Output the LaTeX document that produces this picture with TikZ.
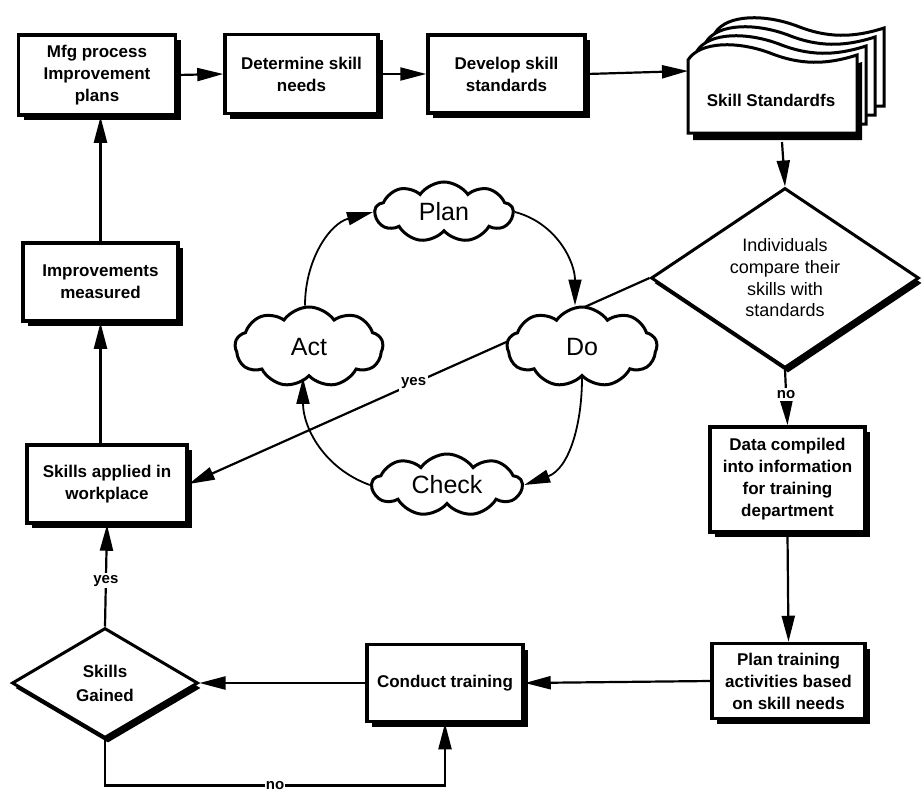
\documentclass[tikz,border=0pt]{standalone}
\usepackage{fontspec}
\setmainfont{Liberation Sans}
\usetikzlibrary{shapes.geometric,shapes.symbols,arrows.meta,shadows}
\tikzset{
  docpage/.pic={\path[pic actions] (0,0) -- (0,-73) .. controls (12,-92) and (50,-92) .. (82,-80) .. controls (112,-68) and (138,-68) .. (169,-78) -- (169,0) -- cycle;}
}
\begin{document}
\begin{tikzpicture}[x=1pt,y=-1pt,
  conn/.style={line width=2.2pt, -{Triangle[length=26pt,width=13pt]}},
  boxtxt/.style={font=\fontsize{17}{22}\selectfont\bfseries},
  lbl/.style={font=\fontsize{15}{18}\selectfont\bfseries, fill=white, inner sep=2pt},
  blackshadow/.style={drop shadow={shadow xshift=5pt, shadow yshift=-5pt, fill=black, opacity=1}},
  procbox/.style={draw, line width=3.5pt, fill=white, align=center, inner sep=0pt, boxtxt, blackshadow},
  decision/.style={diamond, aspect=1.5, draw, line width=3pt, fill=white, align=center, inner sep=0pt,
     drop shadow={shadow xshift=3pt, shadow yshift=-5pt, fill=black, opacity=1}},
  pdca/.style={cloud, cloud puffs=9, cloud puff arc=110, cloud ignores aspect, draw, line width=3pt,
     fill=white, inner sep=0pt, font=\fontsize{25}{30}\selectfont}
]
\useasboundingbox[fill=white] (0,0) rectangle (922,793);

% top row
\node[procbox, minimum width=157pt, minimum height=80pt] (mfg) at (97,75) {Mfg process\\Improvement\\plans};
\node[procbox, minimum width=153pt, minimum height=79pt] (det) at (301.5,74) {Determine skill\\needs};
\node[procbox, minimum width=157pt, minimum height=78pt] (dev) at (506.5,74) {Develop skill\\standards};

% skill standards document (stack of pages)
\pic[draw, line width=3pt, fill=white] at (715,106) {docpage};
\pic[draw, line width=3pt, fill=white] at (706,115) {docpage};
\pic[draw, line width=3pt, fill=white] at (697,124) {docpage};
\pic[fill=black] at (693,140) {docpage};
\pic[draw, line width=3pt, fill=white] at (688,133) {docpage};
\node[boxtxt] (std) at (771,100) {Skill Standardfs};
\coordinate (docL) at (688,71);
\coordinate (docB) at (782,142);

% left column
\node[procbox, minimum width=155pt, minimum height=78pt] (imp) at (100.5,282) {Improvements\\measured};
\node[procbox, minimum width=160pt, minimum height=78pt] (app) at (107,484) {Skills applied in\\workplace};
\node[decision, minimum width=186pt, minimum height=110pt, font=\fontsize{17}{24}\selectfont\bfseries] (gained) at (105,683) {Skills\\Gained};

% right column
\node[decision, minimum width=268pt, minimum height=180pt, font=\fontsize{18}{21.7}\selectfont] (cmp) at (785,278) {Individuals\\compare their\\skills with\\standards};
\node[procbox, minimum width=155pt, minimum height=105pt] (data) at (787.5,479.5) {Data compiled\\into information\\for training\\department};
\node[procbox, minimum width=153pt, minimum height=75pt] (plantr) at (788.5,681) {Plan training\\activities based\\on skill needs};
\node[procbox, minimum width=156pt, minimum height=77pt] (cond) at (445,683) {Conduct training};

% main connectors
\draw[conn] (mfg.east) -- (det.west);
\draw[conn] (det.east) -- (dev.west);
\draw[conn] (dev.east) -- (docL);
\draw[conn] (docB) -- (cmp.north);
\draw[conn] (cmp.south) -- (data.north) node[lbl, pos=0.45] {no};
\draw[conn] (data.south) -- (plantr.north);
\draw[conn] (plantr.west) -- (cond.east);
\draw[conn] (cond.west) -- (gained.east);
\draw[conn] (gained.north) -- (app.south) node[lbl, pos=0.45] {yes};
\draw[conn] (gained.south) -- ++(0,46) -| (cond.south) node[lbl, pos=0.25, inner sep=1pt] {no};
\draw[conn] (app.north -| imp.south) -- (imp.south);
\draw[conn] (imp.north) -- (mfg.south -| imp.north);
\draw[conn] (cmp.west) -- (app.east) node[lbl, pos=0.512] {yes};

% PDCA clouds
\node[pdca, minimum width=138pt, minimum height=60pt] (plan) at (444,212) {Plan};
\node[pdca, minimum width=148pt, minimum height=80pt] (act) at (309,347) {Act};
\node[pdca, minimum width=150pt, minimum height=80pt] (do) at (582,347) {Do};
\node[pdca, minimum width=150pt, minimum height=62pt] (check) at (447,485) {Check};

\draw[conn, line width=1.8pt] ([xshift=-4pt]act.north) to[out=90, in=195] (plan.west);
\draw[conn, line width=1.8pt] (plan.east) to[out=-15, in=90] ([xshift=-7pt]do.north);
\draw[conn, line width=1.8pt] (do.south) to[out=-90, in=20] (check.east);
\draw[conn, line width=1.8pt] (check.west) to[out=160, in=-90] ([xshift=-6pt]act.south);
\end{tikzpicture}
\end{document}
